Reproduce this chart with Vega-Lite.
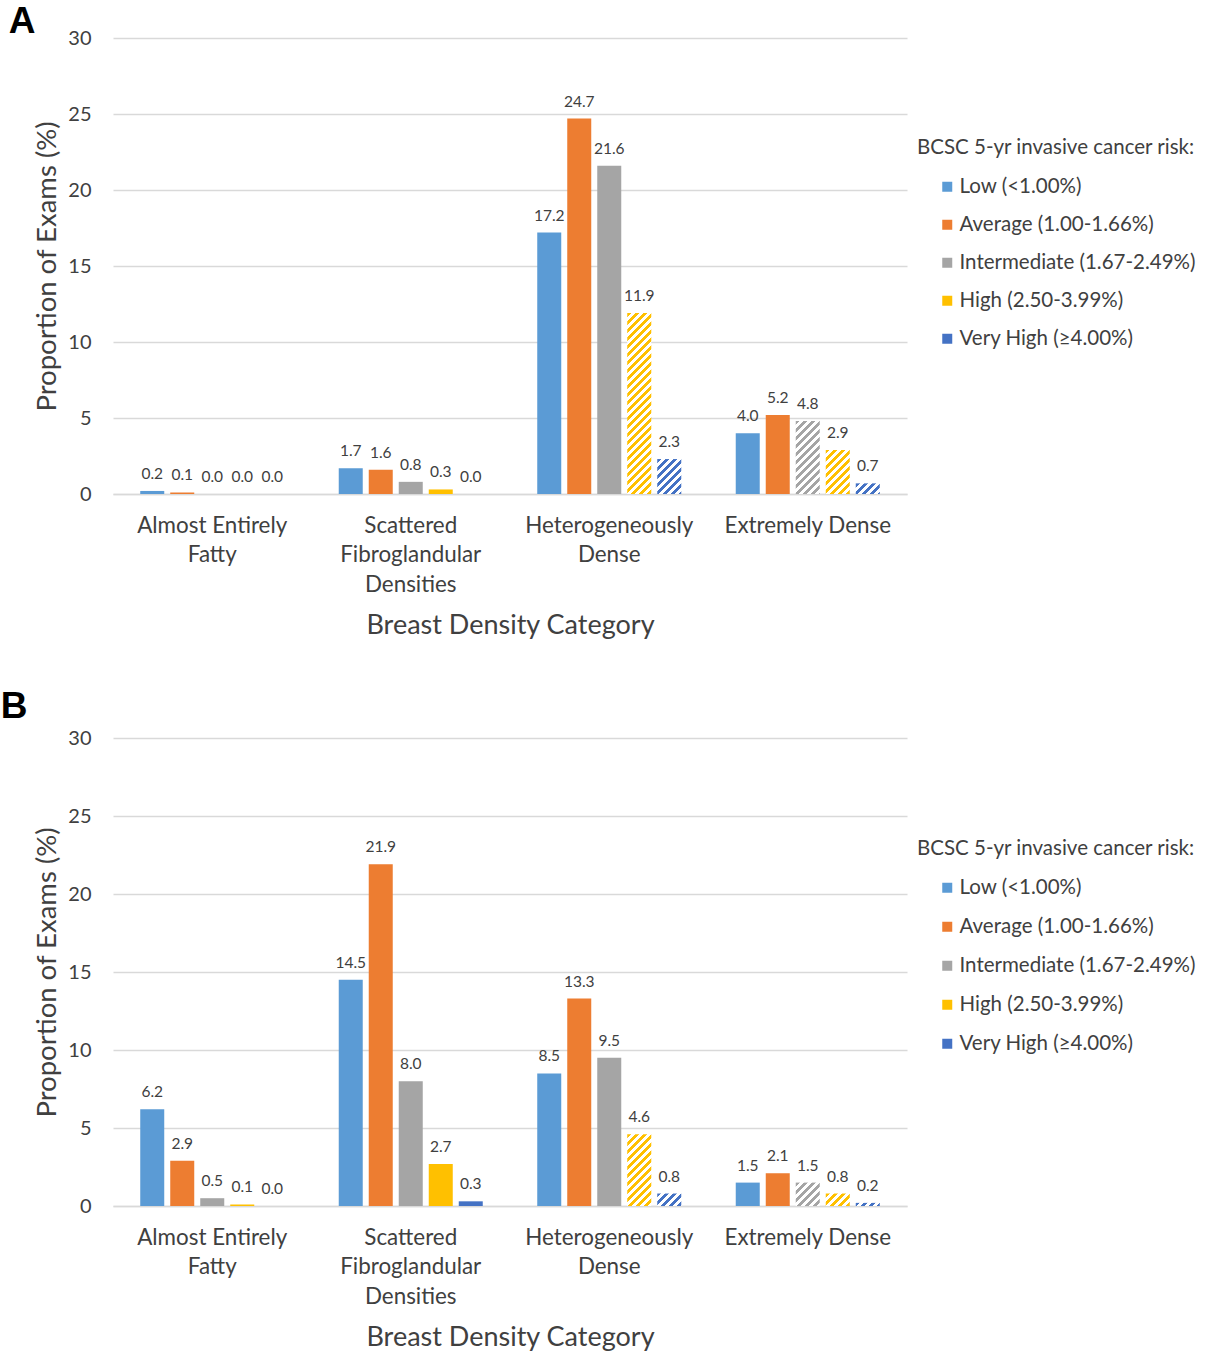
{
  "$schema": "https://vega.github.io/schema/vega-lite/v6.json",
  "background": "white",
  "padding": {"left": 0, "top": 3, "right": 0, "bottom": 0},
  "config": {
    "font": "Lato",
    "view": {"stroke": null},
    "axis": {"labelColor": "#404040", "titleColor": "#404040", "titleFontWeight": "normal"},
    "legend": {"labelColor": "#404040", "titleColor": "#404040"}
  },
  "data": {
    "values": [
      {"panel": "A", "density": "Almost Entirely Fatty", "risk": "Low (<1.00%)", "value": 0.2},
      {"panel": "A", "density": "Almost Entirely Fatty", "risk": "Average (1.00-1.66%)", "value": 0.1},
      {"panel": "A", "density": "Almost Entirely Fatty", "risk": "Intermediate (1.67-2.49%)", "value": 0.0},
      {"panel": "A", "density": "Almost Entirely Fatty", "risk": "High (2.50-3.99%)", "value": 0.0},
      {"panel": "A", "density": "Almost Entirely Fatty", "risk": "Very High (≥4.00%)", "value": 0.0},
      {"panel": "A", "density": "Scattered Fibroglandular Densities", "risk": "Low (<1.00%)", "value": 1.7},
      {"panel": "A", "density": "Scattered Fibroglandular Densities", "risk": "Average (1.00-1.66%)", "value": 1.6},
      {"panel": "A", "density": "Scattered Fibroglandular Densities", "risk": "Intermediate (1.67-2.49%)", "value": 0.8},
      {"panel": "A", "density": "Scattered Fibroglandular Densities", "risk": "High (2.50-3.99%)", "value": 0.3},
      {"panel": "A", "density": "Scattered Fibroglandular Densities", "risk": "Very High (≥4.00%)", "value": 0.0},
      {"panel": "A", "density": "Heterogeneously Dense", "risk": "Low (<1.00%)", "value": 17.2},
      {"panel": "A", "density": "Heterogeneously Dense", "risk": "Average (1.00-1.66%)", "value": 24.7},
      {"panel": "A", "density": "Heterogeneously Dense", "risk": "Intermediate (1.67-2.49%)", "value": 21.6},
      {"panel": "A", "density": "Heterogeneously Dense", "risk": "High (2.50-3.99%)", "value": 11.9},
      {"panel": "A", "density": "Heterogeneously Dense", "risk": "Very High (≥4.00%)", "value": 2.3},
      {"panel": "A", "density": "Extremely Dense", "risk": "Low (<1.00%)", "value": 4.0},
      {"panel": "A", "density": "Extremely Dense", "risk": "Average (1.00-1.66%)", "value": 5.2},
      {"panel": "A", "density": "Extremely Dense", "risk": "Intermediate (1.67-2.49%)", "value": 4.8},
      {"panel": "A", "density": "Extremely Dense", "risk": "High (2.50-3.99%)", "value": 2.9},
      {"panel": "A", "density": "Extremely Dense", "risk": "Very High (≥4.00%)", "value": 0.7},
      {"panel": "B", "density": "Almost Entirely Fatty", "risk": "Low (<1.00%)", "value": 6.2},
      {"panel": "B", "density": "Almost Entirely Fatty", "risk": "Average (1.00-1.66%)", "value": 2.9},
      {"panel": "B", "density": "Almost Entirely Fatty", "risk": "Intermediate (1.67-2.49%)", "value": 0.5},
      {"panel": "B", "density": "Almost Entirely Fatty", "risk": "High (2.50-3.99%)", "value": 0.1},
      {"panel": "B", "density": "Almost Entirely Fatty", "risk": "Very High (≥4.00%)", "value": 0.0},
      {"panel": "B", "density": "Scattered Fibroglandular Densities", "risk": "Low (<1.00%)", "value": 14.5},
      {"panel": "B", "density": "Scattered Fibroglandular Densities", "risk": "Average (1.00-1.66%)", "value": 21.9},
      {"panel": "B", "density": "Scattered Fibroglandular Densities", "risk": "Intermediate (1.67-2.49%)", "value": 8.0},
      {"panel": "B", "density": "Scattered Fibroglandular Densities", "risk": "High (2.50-3.99%)", "value": 2.7},
      {"panel": "B", "density": "Scattered Fibroglandular Densities", "risk": "Very High (≥4.00%)", "value": 0.3},
      {"panel": "B", "density": "Heterogeneously Dense", "risk": "Low (<1.00%)", "value": 8.5},
      {"panel": "B", "density": "Heterogeneously Dense", "risk": "Average (1.00-1.66%)", "value": 13.3},
      {"panel": "B", "density": "Heterogeneously Dense", "risk": "Intermediate (1.67-2.49%)", "value": 9.5},
      {"panel": "B", "density": "Heterogeneously Dense", "risk": "High (2.50-3.99%)", "value": 4.6},
      {"panel": "B", "density": "Heterogeneously Dense", "risk": "Very High (≥4.00%)", "value": 0.8},
      {"panel": "B", "density": "Extremely Dense", "risk": "Low (<1.00%)", "value": 1.5},
      {"panel": "B", "density": "Extremely Dense", "risk": "Average (1.00-1.66%)", "value": 2.1},
      {"panel": "B", "density": "Extremely Dense", "risk": "Intermediate (1.67-2.49%)", "value": 1.5},
      {"panel": "B", "density": "Extremely Dense", "risk": "High (2.50-3.99%)", "value": 0.8},
      {"panel": "B", "density": "Extremely Dense", "risk": "Very High (≥4.00%)", "value": 0.2}
    ]
  },
  "resolve": {"scale": {"color": "independent"}, "legend": {"color": "independent"}},
  "spacing": 49,
  "vconcat": [
    {
      "title": {"text": "A", "anchor": "start", "frame": "bounds", "font": "Liberation Sans", "fontSize": 37, "fontWeight": "bold", "color": "#000000", "dx": -25, "offset": -13},
      "width": 794,
      "height": 456,
      "transform": [{"filter": "datum.panel == 'A'"}],
      "encoding": {
        "x": {
          "field": "density", "type": "nominal", "title": "Breast Density Category",
          "sort": ["Almost Entirely Fatty", "Scattered Fibroglandular Densities", "Heterogeneously Dense", "Extremely Dense"],
          "scale": {"paddingInner": 0, "paddingOuter": 0},
          "axis": {
            "labelAngle": 0, "ticks": false, "domainColor": "#d9d9d9", "domainWidth": 1.5,
            "labelFontSize": 22.4, "labelLineHeight": 29.5, "labelPadding": 20, "labelLimit": 300,
            "titleFontSize": 27, "titlePadding": 17,
            "labelExpr": "datum.value == 'Almost Entirely Fatty' ? ['Almost Entirely', 'Fatty'] : datum.value == 'Scattered Fibroglandular Densities' ? ['Scattered', 'Fibroglandular', 'Densities'] : datum.value == 'Heterogeneously Dense' ? ['Heterogeneously', 'Dense'] : datum.value"
          }
        },
        "xOffset": {
          "field": "risk", "type": "nominal",
          "sort": ["Low (<1.00%)", "Average (1.00-1.66%)", "Intermediate (1.67-2.49%)", "High (2.50-3.99%)", "Very High (≥4.00%)"],
          "scale": {"paddingInner": 0.2, "paddingOuter": 0.908}
        },
        "y": {
          "field": "value", "type": "quantitative", "title": "Proportion of Exams (%)",
          "scale": {"domain": [0, 30]},
          "axis": {"values": [0, 5, 10, 15, 20, 25, 30], "domain": false, "ticks": false, "gridColor": "#d9d9d9", "gridWidth": 1.3, "labelFontSize": 20, "labelPadding": 22, "titleFontSize": 27.5, "titlePadding": 6}
        }
      },
      "layer": [
        {
          "mark": {"type": "bar"},
          "encoding": {
            "color": {
              "condition": [
                {"test": "datum.density == 'Heterogeneously Dense' && datum.risk == 'High (2.50-3.99%)'",
                 "value": {"gradient": "linear", "x1": 0, "y1": 0, "x2": 0.1557, "y2": 1.1734, "stops": [
                  {"offset":0,"color":"#ffc000"},{"offset":0.01852,"color":"#ffc000"},{"offset":0.01852,"color":"#ffffff"},{"offset":0.03704,"color":"#ffffff"},
                  {"offset":0.03704,"color":"#ffc000"},{"offset":0.05556,"color":"#ffc000"},{"offset":0.05556,"color":"#ffffff"},{"offset":0.07407,"color":"#ffffff"},
                  {"offset":0.07407,"color":"#ffc000"},{"offset":0.09259,"color":"#ffc000"},{"offset":0.09259,"color":"#ffffff"},{"offset":0.11111,"color":"#ffffff"},
                  {"offset":0.11111,"color":"#ffc000"},{"offset":0.12963,"color":"#ffc000"},{"offset":0.12963,"color":"#ffffff"},{"offset":0.14815,"color":"#ffffff"},
                  {"offset":0.14815,"color":"#ffc000"},{"offset":0.16667,"color":"#ffc000"},{"offset":0.16667,"color":"#ffffff"},{"offset":0.18519,"color":"#ffffff"},
                  {"offset":0.18519,"color":"#ffc000"},{"offset":0.2037,"color":"#ffc000"},{"offset":0.2037,"color":"#ffffff"},{"offset":0.22222,"color":"#ffffff"},
                  {"offset":0.22222,"color":"#ffc000"},{"offset":0.24074,"color":"#ffc000"},{"offset":0.24074,"color":"#ffffff"},{"offset":0.25926,"color":"#ffffff"},
                  {"offset":0.25926,"color":"#ffc000"},{"offset":0.27778,"color":"#ffc000"},{"offset":0.27778,"color":"#ffffff"},{"offset":0.2963,"color":"#ffffff"},
                  {"offset":0.2963,"color":"#ffc000"},{"offset":0.31481,"color":"#ffc000"},{"offset":0.31481,"color":"#ffffff"},{"offset":0.33333,"color":"#ffffff"},
                  {"offset":0.33333,"color":"#ffc000"},{"offset":0.35185,"color":"#ffc000"},{"offset":0.35185,"color":"#ffffff"},{"offset":0.37037,"color":"#ffffff"},
                  {"offset":0.37037,"color":"#ffc000"},{"offset":0.38889,"color":"#ffc000"},{"offset":0.38889,"color":"#ffffff"},{"offset":0.40741,"color":"#ffffff"},
                  {"offset":0.40741,"color":"#ffc000"},{"offset":0.42593,"color":"#ffc000"},{"offset":0.42593,"color":"#ffffff"},{"offset":0.44444,"color":"#ffffff"},
                  {"offset":0.44444,"color":"#ffc000"},{"offset":0.46296,"color":"#ffc000"},{"offset":0.46296,"color":"#ffffff"},{"offset":0.48148,"color":"#ffffff"},
                  {"offset":0.48148,"color":"#ffc000"},{"offset":0.5,"color":"#ffc000"},{"offset":0.5,"color":"#ffffff"},{"offset":0.51852,"color":"#ffffff"},
                  {"offset":0.51852,"color":"#ffc000"},{"offset":0.53704,"color":"#ffc000"},{"offset":0.53704,"color":"#ffffff"},{"offset":0.55556,"color":"#ffffff"},
                  {"offset":0.55556,"color":"#ffc000"},{"offset":0.57407,"color":"#ffc000"},{"offset":0.57407,"color":"#ffffff"},{"offset":0.59259,"color":"#ffffff"},
                  {"offset":0.59259,"color":"#ffc000"},{"offset":0.61111,"color":"#ffc000"},{"offset":0.61111,"color":"#ffffff"},{"offset":0.62963,"color":"#ffffff"},
                  {"offset":0.62963,"color":"#ffc000"},{"offset":0.64815,"color":"#ffc000"},{"offset":0.64815,"color":"#ffffff"},{"offset":0.66667,"color":"#ffffff"},
                  {"offset":0.66667,"color":"#ffc000"},{"offset":0.68519,"color":"#ffc000"},{"offset":0.68519,"color":"#ffffff"},{"offset":0.7037,"color":"#ffffff"},
                  {"offset":0.7037,"color":"#ffc000"},{"offset":0.72222,"color":"#ffc000"},{"offset":0.72222,"color":"#ffffff"},{"offset":0.74074,"color":"#ffffff"},
                  {"offset":0.74074,"color":"#ffc000"},{"offset":0.75926,"color":"#ffc000"},{"offset":0.75926,"color":"#ffffff"},{"offset":0.77778,"color":"#ffffff"},
                  {"offset":0.77778,"color":"#ffc000"},{"offset":0.7963,"color":"#ffc000"},{"offset":0.7963,"color":"#ffffff"},{"offset":0.81481,"color":"#ffffff"},
                  {"offset":0.81481,"color":"#ffc000"},{"offset":0.83333,"color":"#ffc000"},{"offset":0.83333,"color":"#ffffff"},{"offset":0.85185,"color":"#ffffff"},
                  {"offset":0.85185,"color":"#ffc000"},{"offset":0.87037,"color":"#ffc000"},{"offset":0.87037,"color":"#ffffff"},{"offset":0.88889,"color":"#ffffff"},
                  {"offset":0.88889,"color":"#ffc000"},{"offset":0.90741,"color":"#ffc000"},{"offset":0.90741,"color":"#ffffff"},{"offset":0.92593,"color":"#ffffff"},
                  {"offset":0.92593,"color":"#ffc000"},{"offset":0.94444,"color":"#ffc000"},{"offset":0.94444,"color":"#ffffff"},{"offset":0.96296,"color":"#ffffff"},
                  {"offset":0.96296,"color":"#ffc000"},{"offset":0.98148,"color":"#ffc000"},{"offset":0.98148,"color":"#ffffff"},{"offset":1,"color":"#ffffff"}]}},
                {"test": "datum.density == 'Heterogeneously Dense' && datum.risk == 'Very High (≥4.00%)'",
                 "value": {"gradient": "linear", "x1": 0, "y1": 0, "x2": 0.9595, "y2": 1.3992, "stops": [
                  {"offset":0,"color":"#4472c4"},{"offset":0.05556,"color":"#4472c4"},{"offset":0.05556,"color":"#ffffff"},{"offset":0.11111,"color":"#ffffff"},
                  {"offset":0.11111,"color":"#4472c4"},{"offset":0.16667,"color":"#4472c4"},{"offset":0.16667,"color":"#ffffff"},{"offset":0.22222,"color":"#ffffff"},
                  {"offset":0.22222,"color":"#4472c4"},{"offset":0.27778,"color":"#4472c4"},{"offset":0.27778,"color":"#ffffff"},{"offset":0.33333,"color":"#ffffff"},
                  {"offset":0.33333,"color":"#4472c4"},{"offset":0.38889,"color":"#4472c4"},{"offset":0.38889,"color":"#ffffff"},{"offset":0.44444,"color":"#ffffff"},
                  {"offset":0.44444,"color":"#4472c4"},{"offset":0.5,"color":"#4472c4"},{"offset":0.5,"color":"#ffffff"},{"offset":0.55556,"color":"#ffffff"},
                  {"offset":0.55556,"color":"#4472c4"},{"offset":0.61111,"color":"#4472c4"},{"offset":0.61111,"color":"#ffffff"},{"offset":0.66667,"color":"#ffffff"},
                  {"offset":0.66667,"color":"#4472c4"},{"offset":0.72222,"color":"#4472c4"},{"offset":0.72222,"color":"#ffffff"},{"offset":0.77778,"color":"#ffffff"},
                  {"offset":0.77778,"color":"#4472c4"},{"offset":0.83333,"color":"#4472c4"},{"offset":0.83333,"color":"#ffffff"},{"offset":0.88889,"color":"#ffffff"},
                  {"offset":0.88889,"color":"#4472c4"},{"offset":0.94444,"color":"#4472c4"},{"offset":0.94444,"color":"#ffffff"},{"offset":1,"color":"#ffffff"}]}},
                {"test": "datum.density == 'Extremely Dense' && datum.risk == 'Intermediate (1.67-2.49%)'",
                 "value": {"gradient": "linear", "x1": 0, "y1": 0, "x2": 0.4552, "y2": 1.3846, "stops": [
                  {"offset":0,"color":"#a5a5a5"},{"offset":0.03571,"color":"#a5a5a5"},{"offset":0.03571,"color":"#ffffff"},{"offset":0.07143,"color":"#ffffff"},
                  {"offset":0.07143,"color":"#a5a5a5"},{"offset":0.10714,"color":"#a5a5a5"},{"offset":0.10714,"color":"#ffffff"},{"offset":0.14286,"color":"#ffffff"},
                  {"offset":0.14286,"color":"#a5a5a5"},{"offset":0.17857,"color":"#a5a5a5"},{"offset":0.17857,"color":"#ffffff"},{"offset":0.21429,"color":"#ffffff"},
                  {"offset":0.21429,"color":"#a5a5a5"},{"offset":0.25,"color":"#a5a5a5"},{"offset":0.25,"color":"#ffffff"},{"offset":0.28571,"color":"#ffffff"},
                  {"offset":0.28571,"color":"#a5a5a5"},{"offset":0.32143,"color":"#a5a5a5"},{"offset":0.32143,"color":"#ffffff"},{"offset":0.35714,"color":"#ffffff"},
                  {"offset":0.35714,"color":"#a5a5a5"},{"offset":0.39286,"color":"#a5a5a5"},{"offset":0.39286,"color":"#ffffff"},{"offset":0.42857,"color":"#ffffff"},
                  {"offset":0.42857,"color":"#a5a5a5"},{"offset":0.46429,"color":"#a5a5a5"},{"offset":0.46429,"color":"#ffffff"},{"offset":0.5,"color":"#ffffff"},
                  {"offset":0.5,"color":"#a5a5a5"},{"offset":0.53571,"color":"#a5a5a5"},{"offset":0.53571,"color":"#ffffff"},{"offset":0.57143,"color":"#ffffff"},
                  {"offset":0.57143,"color":"#a5a5a5"},{"offset":0.60714,"color":"#a5a5a5"},{"offset":0.60714,"color":"#ffffff"},{"offset":0.64286,"color":"#ffffff"},
                  {"offset":0.64286,"color":"#a5a5a5"},{"offset":0.67857,"color":"#a5a5a5"},{"offset":0.67857,"color":"#ffffff"},{"offset":0.71429,"color":"#ffffff"},
                  {"offset":0.71429,"color":"#a5a5a5"},{"offset":0.75,"color":"#a5a5a5"},{"offset":0.75,"color":"#ffffff"},{"offset":0.78571,"color":"#ffffff"},
                  {"offset":0.78571,"color":"#a5a5a5"},{"offset":0.82143,"color":"#a5a5a5"},{"offset":0.82143,"color":"#ffffff"},{"offset":0.85714,"color":"#ffffff"},
                  {"offset":0.85714,"color":"#a5a5a5"},{"offset":0.89286,"color":"#a5a5a5"},{"offset":0.89286,"color":"#ffffff"},{"offset":0.92857,"color":"#ffffff"},
                  {"offset":0.92857,"color":"#a5a5a5"},{"offset":0.96429,"color":"#a5a5a5"},{"offset":0.96429,"color":"#ffffff"},{"offset":1,"color":"#ffffff"}]}},
                {"test": "datum.density == 'Extremely Dense' && datum.risk == 'High (2.50-3.99%)'",
                 "value": {"gradient": "linear", "x1": 0, "y1": 0, "x2": 0.7616, "y2": 1.3995, "stops": [
                  {"offset":0,"color":"#ffc000"},{"offset":0.05,"color":"#ffc000"},{"offset":0.05,"color":"#ffffff"},{"offset":0.1,"color":"#ffffff"},
                  {"offset":0.1,"color":"#ffc000"},{"offset":0.15,"color":"#ffc000"},{"offset":0.15,"color":"#ffffff"},{"offset":0.2,"color":"#ffffff"},
                  {"offset":0.2,"color":"#ffc000"},{"offset":0.25,"color":"#ffc000"},{"offset":0.25,"color":"#ffffff"},{"offset":0.3,"color":"#ffffff"},
                  {"offset":0.3,"color":"#ffc000"},{"offset":0.35,"color":"#ffc000"},{"offset":0.35,"color":"#ffffff"},{"offset":0.4,"color":"#ffffff"},
                  {"offset":0.4,"color":"#ffc000"},{"offset":0.45,"color":"#ffc000"},{"offset":0.45,"color":"#ffffff"},{"offset":0.5,"color":"#ffffff"},
                  {"offset":0.5,"color":"#ffc000"},{"offset":0.55,"color":"#ffc000"},{"offset":0.55,"color":"#ffffff"},{"offset":0.6,"color":"#ffffff"},
                  {"offset":0.6,"color":"#ffc000"},{"offset":0.65,"color":"#ffc000"},{"offset":0.65,"color":"#ffffff"},{"offset":0.7,"color":"#ffffff"},
                  {"offset":0.7,"color":"#ffc000"},{"offset":0.75,"color":"#ffc000"},{"offset":0.75,"color":"#ffffff"},{"offset":0.8,"color":"#ffffff"},
                  {"offset":0.8,"color":"#ffc000"},{"offset":0.85,"color":"#ffc000"},{"offset":0.85,"color":"#ffffff"},{"offset":0.9,"color":"#ffffff"},
                  {"offset":0.9,"color":"#ffc000"},{"offset":0.95,"color":"#ffc000"},{"offset":0.95,"color":"#ffffff"},{"offset":1,"color":"#ffffff"}]}},
                {"test": "datum.density == 'Extremely Dense' && datum.risk == 'Very High (≥4.00%)'",
                 "value": {"gradient": "linear", "x1": 0, "y1": 0, "x2": 1.6734, "y2": 0.7391, "stops": [
                  {"offset":0,"color":"#4472c4"},{"offset":0.08333,"color":"#4472c4"},{"offset":0.08333,"color":"#ffffff"},{"offset":0.16667,"color":"#ffffff"},
                  {"offset":0.16667,"color":"#4472c4"},{"offset":0.25,"color":"#4472c4"},{"offset":0.25,"color":"#ffffff"},{"offset":0.33333,"color":"#ffffff"},
                  {"offset":0.33333,"color":"#4472c4"},{"offset":0.41667,"color":"#4472c4"},{"offset":0.41667,"color":"#ffffff"},{"offset":0.5,"color":"#ffffff"},
                  {"offset":0.5,"color":"#4472c4"},{"offset":0.58333,"color":"#4472c4"},{"offset":0.58333,"color":"#ffffff"},{"offset":0.66667,"color":"#ffffff"},
                  {"offset":0.66667,"color":"#4472c4"},{"offset":0.75,"color":"#4472c4"},{"offset":0.75,"color":"#ffffff"},{"offset":0.83333,"color":"#ffffff"},
                  {"offset":0.83333,"color":"#4472c4"},{"offset":0.91667,"color":"#4472c4"},{"offset":0.91667,"color":"#ffffff"},{"offset":1,"color":"#ffffff"}]}}
              ],
              "field": "risk", "type": "nominal",
              "scale": {
                "domain": ["Low (<1.00%)", "Average (1.00-1.66%)", "Intermediate (1.67-2.49%)", "High (2.50-3.99%)", "Very High (≥4.00%)"],
                "range": ["#5b9bd5", "#ed7d31", "#a5a5a5", "#ffc000", "#4472c4"]
              },
              "legend": {
                "title": "BCSC 5-yr invasive cancer risk:", "orient": "none", "legendX": 804, "legendY": 100, "padding": 0,
                "symbolType": "square", "symbolSize": 100, "symbolOffset": 20, "symbolStrokeWidth": 0, "labelOffset": 2,
                "rowPadding": 17, "titlePadding": 18, "labelFontSize": 20.5, "titleFontSize": 20.5, "titleFontWeight": "normal", "labelLimit": 400, "titleLimit": 400
              }
            }
          }
        },
        {
          "mark": {"type": "text", "baseline": "bottom", "dy": -9, "fontSize": 15.5, "color": "#404040"},
          "encoding": {"text": {"field": "value", "type": "quantitative", "format": ".1f"}}
        }
      ]
    },
    {
      "title": {"text": "B", "anchor": "start", "frame": "bounds", "font": "Liberation Sans", "fontSize": 37, "fontWeight": "bold", "color": "#000000", "dx": -33, "offset": 2},
      "width": 794,
      "height": 468,
      "transform": [{"filter": "datum.panel == 'B'"}],
      "encoding": {
        "x": {
          "field": "density", "type": "nominal", "title": "Breast Density Category",
          "sort": ["Almost Entirely Fatty", "Scattered Fibroglandular Densities", "Heterogeneously Dense", "Extremely Dense"],
          "scale": {"paddingInner": 0, "paddingOuter": 0},
          "axis": {
            "labelAngle": 0, "ticks": false, "domainColor": "#d9d9d9", "domainWidth": 1.5,
            "labelFontSize": 22.4, "labelLineHeight": 29.5, "labelPadding": 20, "labelLimit": 300,
            "titleFontSize": 27, "titlePadding": 17,
            "labelExpr": "datum.value == 'Almost Entirely Fatty' ? ['Almost Entirely', 'Fatty'] : datum.value == 'Scattered Fibroglandular Densities' ? ['Scattered', 'Fibroglandular', 'Densities'] : datum.value == 'Heterogeneously Dense' ? ['Heterogeneously', 'Dense'] : datum.value"
          }
        },
        "xOffset": {
          "field": "risk", "type": "nominal",
          "sort": ["Low (<1.00%)", "Average (1.00-1.66%)", "Intermediate (1.67-2.49%)", "High (2.50-3.99%)", "Very High (≥4.00%)"],
          "scale": {"paddingInner": 0.2, "paddingOuter": 0.908}
        },
        "y": {
          "field": "value", "type": "quantitative", "title": "Proportion of Exams (%)",
          "scale": {"domain": [0, 30]},
          "axis": {"values": [0, 5, 10, 15, 20, 25, 30], "domain": false, "ticks": false, "gridColor": "#d9d9d9", "gridWidth": 1.3, "labelFontSize": 20, "labelPadding": 22, "titleFontSize": 27.5, "titlePadding": 6}
        }
      },
      "layer": [
        {
          "mark": {"type": "bar"},
          "encoding": {
            "color": {
              "condition": [
                {"test": "datum.density == 'Heterogeneously Dense' && datum.risk == 'High (2.50-3.99%)'",
                 "value": {"gradient": "linear", "x1": 0, "y1": 0, "x2": 0.4377, "y2": 1.3057, "stops": [
                  {"offset":0,"color":"#ffc000"},{"offset":0.03846,"color":"#ffc000"},{"offset":0.03846,"color":"#ffffff"},{"offset":0.07692,"color":"#ffffff"},
                  {"offset":0.07692,"color":"#ffc000"},{"offset":0.11538,"color":"#ffc000"},{"offset":0.11538,"color":"#ffffff"},{"offset":0.15385,"color":"#ffffff"},
                  {"offset":0.15385,"color":"#ffc000"},{"offset":0.19231,"color":"#ffc000"},{"offset":0.19231,"color":"#ffffff"},{"offset":0.23077,"color":"#ffffff"},
                  {"offset":0.23077,"color":"#ffc000"},{"offset":0.26923,"color":"#ffc000"},{"offset":0.26923,"color":"#ffffff"},{"offset":0.30769,"color":"#ffffff"},
                  {"offset":0.30769,"color":"#ffc000"},{"offset":0.34615,"color":"#ffc000"},{"offset":0.34615,"color":"#ffffff"},{"offset":0.38462,"color":"#ffffff"},
                  {"offset":0.38462,"color":"#ffc000"},{"offset":0.42308,"color":"#ffc000"},{"offset":0.42308,"color":"#ffffff"},{"offset":0.46154,"color":"#ffffff"},
                  {"offset":0.46154,"color":"#ffc000"},{"offset":0.5,"color":"#ffc000"},{"offset":0.5,"color":"#ffffff"},{"offset":0.53846,"color":"#ffffff"},
                  {"offset":0.53846,"color":"#ffc000"},{"offset":0.57692,"color":"#ffc000"},{"offset":0.57692,"color":"#ffffff"},{"offset":0.61538,"color":"#ffffff"},
                  {"offset":0.61538,"color":"#ffc000"},{"offset":0.65385,"color":"#ffc000"},{"offset":0.65385,"color":"#ffffff"},{"offset":0.69231,"color":"#ffffff"},
                  {"offset":0.69231,"color":"#ffc000"},{"offset":0.73077,"color":"#ffc000"},{"offset":0.73077,"color":"#ffffff"},{"offset":0.76923,"color":"#ffffff"},
                  {"offset":0.76923,"color":"#ffc000"},{"offset":0.80769,"color":"#ffc000"},{"offset":0.80769,"color":"#ffffff"},{"offset":0.84615,"color":"#ffffff"},
                  {"offset":0.84615,"color":"#ffc000"},{"offset":0.88462,"color":"#ffc000"},{"offset":0.88462,"color":"#ffffff"},{"offset":0.92308,"color":"#ffffff"},
                  {"offset":0.92308,"color":"#ffc000"},{"offset":0.96154,"color":"#ffc000"},{"offset":0.96154,"color":"#ffffff"},{"offset":1,"color":"#ffffff"}]}},
                {"test": "datum.density == 'Heterogeneously Dense' && datum.risk == 'Very High (≥4.00%)'",
                 "value": {"gradient": "linear", "x1": 0, "y1": 0, "x2": 1.5759, "y2": 0.8175, "stops": [
                  {"offset":0,"color":"#4472c4"},{"offset":0.08333,"color":"#4472c4"},{"offset":0.08333,"color":"#ffffff"},{"offset":0.16667,"color":"#ffffff"},
                  {"offset":0.16667,"color":"#4472c4"},{"offset":0.25,"color":"#4472c4"},{"offset":0.25,"color":"#ffffff"},{"offset":0.33333,"color":"#ffffff"},
                  {"offset":0.33333,"color":"#4472c4"},{"offset":0.41667,"color":"#4472c4"},{"offset":0.41667,"color":"#ffffff"},{"offset":0.5,"color":"#ffffff"},
                  {"offset":0.5,"color":"#4472c4"},{"offset":0.58333,"color":"#4472c4"},{"offset":0.58333,"color":"#ffffff"},{"offset":0.66667,"color":"#ffffff"},
                  {"offset":0.66667,"color":"#4472c4"},{"offset":0.75,"color":"#4472c4"},{"offset":0.75,"color":"#ffffff"},{"offset":0.83333,"color":"#ffffff"},
                  {"offset":0.83333,"color":"#4472c4"},{"offset":0.91667,"color":"#4472c4"},{"offset":0.91667,"color":"#ffffff"},{"offset":1,"color":"#ffffff"}]}},
                {"test": "datum.density == 'Extremely Dense' && datum.risk == 'Intermediate (1.67-2.49%)'",
                 "value": {"gradient": "linear", "x1": 0, "y1": 0, "x2": 1.1989, "y2": 1.1665, "stops": [
                  {"offset":0,"color":"#a5a5a5"},{"offset":0.07143,"color":"#a5a5a5"},{"offset":0.07143,"color":"#ffffff"},{"offset":0.14286,"color":"#ffffff"},
                  {"offset":0.14286,"color":"#a5a5a5"},{"offset":0.21429,"color":"#a5a5a5"},{"offset":0.21429,"color":"#ffffff"},{"offset":0.28571,"color":"#ffffff"},
                  {"offset":0.28571,"color":"#a5a5a5"},{"offset":0.35714,"color":"#a5a5a5"},{"offset":0.35714,"color":"#ffffff"},{"offset":0.42857,"color":"#ffffff"},
                  {"offset":0.42857,"color":"#a5a5a5"},{"offset":0.5,"color":"#a5a5a5"},{"offset":0.5,"color":"#ffffff"},{"offset":0.57143,"color":"#ffffff"},
                  {"offset":0.57143,"color":"#a5a5a5"},{"offset":0.64286,"color":"#a5a5a5"},{"offset":0.64286,"color":"#ffffff"},{"offset":0.71429,"color":"#ffffff"},
                  {"offset":0.71429,"color":"#a5a5a5"},{"offset":0.78571,"color":"#a5a5a5"},{"offset":0.78571,"color":"#ffffff"},{"offset":0.85714,"color":"#ffffff"},
                  {"offset":0.85714,"color":"#a5a5a5"},{"offset":0.92857,"color":"#a5a5a5"},{"offset":0.92857,"color":"#ffffff"},{"offset":1,"color":"#ffffff"}]}},
                {"test": "datum.density == 'Extremely Dense' && datum.risk == 'High (2.50-3.99%)'",
                 "value": {"gradient": "linear", "x1": 0, "y1": 0, "x2": 1.5759, "y2": 0.8175, "stops": [
                  {"offset":0,"color":"#ffc000"},{"offset":0.08333,"color":"#ffc000"},{"offset":0.08333,"color":"#ffffff"},{"offset":0.16667,"color":"#ffffff"},
                  {"offset":0.16667,"color":"#ffc000"},{"offset":0.25,"color":"#ffc000"},{"offset":0.25,"color":"#ffffff"},{"offset":0.33333,"color":"#ffffff"},
                  {"offset":0.33333,"color":"#ffc000"},{"offset":0.41667,"color":"#ffc000"},{"offset":0.41667,"color":"#ffffff"},{"offset":0.5,"color":"#ffffff"},
                  {"offset":0.5,"color":"#ffc000"},{"offset":0.58333,"color":"#ffc000"},{"offset":0.58333,"color":"#ffffff"},{"offset":0.66667,"color":"#ffffff"},
                  {"offset":0.66667,"color":"#ffc000"},{"offset":0.75,"color":"#ffc000"},{"offset":0.75,"color":"#ffffff"},{"offset":0.83333,"color":"#ffffff"},
                  {"offset":0.83333,"color":"#ffc000"},{"offset":0.91667,"color":"#ffc000"},{"offset":0.91667,"color":"#ffffff"},{"offset":1,"color":"#ffffff"}]}},
                {"test": "datum.density == 'Extremely Dense' && datum.risk == 'Very High (≥4.00%)'",
                 "value": {"gradient": "linear", "x1": 0, "y1": 0, "x2": 1.6393, "y2": 0.2117, "stops": [
                  {"offset":0,"color":"#4472c4"},{"offset":0.1,"color":"#4472c4"},{"offset":0.1,"color":"#ffffff"},{"offset":0.2,"color":"#ffffff"},
                  {"offset":0.2,"color":"#4472c4"},{"offset":0.3,"color":"#4472c4"},{"offset":0.3,"color":"#ffffff"},{"offset":0.4,"color":"#ffffff"},
                  {"offset":0.4,"color":"#4472c4"},{"offset":0.5,"color":"#4472c4"},{"offset":0.5,"color":"#ffffff"},{"offset":0.6,"color":"#ffffff"},
                  {"offset":0.6,"color":"#4472c4"},{"offset":0.7,"color":"#4472c4"},{"offset":0.7,"color":"#ffffff"},{"offset":0.8,"color":"#ffffff"},
                  {"offset":0.8,"color":"#4472c4"},{"offset":0.9,"color":"#4472c4"},{"offset":0.9,"color":"#ffffff"},{"offset":1,"color":"#ffffff"}]}}
              ],
              "field": "risk", "type": "nominal",
              "scale": {
                "domain": ["Low (<1.00%)", "Average (1.00-1.66%)", "Intermediate (1.67-2.49%)", "High (2.50-3.99%)", "Very High (≥4.00%)"],
                "range": ["#5b9bd5", "#ed7d31", "#a5a5a5", "#ffc000", "#4472c4"]
              },
              "legend": {
                "title": "BCSC 5-yr invasive cancer risk:", "orient": "none", "legendX": 804, "legendY": 101, "padding": 0,
                "symbolType": "square", "symbolSize": 100, "symbolOffset": 20, "symbolStrokeWidth": 0, "labelOffset": 2,
                "rowPadding": 18, "titlePadding": 18, "labelFontSize": 20.5, "titleFontSize": 20.5, "titleFontWeight": "normal", "labelLimit": 400, "titleLimit": 400
              }
            }
          }
        },
        {
          "mark": {"type": "text", "baseline": "bottom", "dy": -9, "fontSize": 15.5, "color": "#404040"},
          "encoding": {"text": {"field": "value", "type": "quantitative", "format": ".1f"}}
        }
      ]
    }
  ]
}
